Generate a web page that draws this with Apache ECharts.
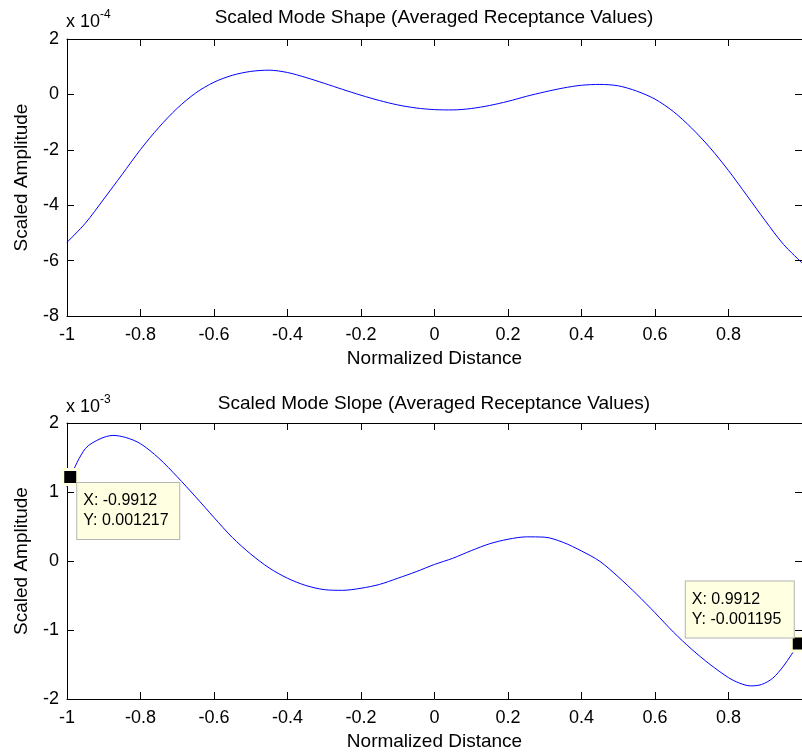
<!DOCTYPE html>
<html><head><meta charset="utf-8">
<script src="https://cdn.jsdelivr.net/npm/echarts@6/dist/echarts.min.js"></script>
<style>html,body{margin:0;padding:0;background:#fff;}#c{width:802px;height:752px;}</style>
</head><body><div id="c"></div>
<script>
// ---------- data (values in units of 10^exp) ----------
const shapeTitle = 'Scaled Mode Shape (Averaged Receptance Values)';
const slopeTitle = 'Scaled Mode Slope (Averaged Receptance Values)';
const xName = 'Normalized Distance';
const yName = 'Scaled Amplitude';
const shapeExp = -4;
const slopeExp = -3;
const shapeX = [-1, -0.95, -0.9, -0.85, -0.8, -0.75, -0.7, -0.65, -0.6, -0.55, -0.5, -0.45, -0.4, -0.35, -0.3, -0.25, -0.2, -0.15, -0.1, -0.05, 0, 0.05, 0.1, 0.15, 0.2, 0.25, 0.3, 0.35, 0.4, 0.45, 0.5, 0.55, 0.6, 0.65, 0.7, 0.75, 0.8, 0.85, 0.9, 0.95, 1.0];
const shapeY = [-5.34, -4.65, -3.78, -2.89, -1.99, -1.19, -0.50, 0.05, 0.44, 0.69, 0.83, 0.875, 0.79, 0.61, 0.40, 0.18, -0.03, -0.22, -0.38, -0.49, -0.55, -0.56, -0.51, -0.40, -0.25, -0.07, 0.09, 0.23, 0.33, 0.36, 0.31, 0.12, -0.17, -0.62, -1.22, -1.93, -2.75, -3.65, -4.56, -5.42, -6.08];
const slopeX = [-1, -0.9912, -0.95, -0.91, -0.875, -0.84, -0.8, -0.75, -0.7, -0.65, -0.6, -0.55, -0.5, -0.45, -0.4, -0.35, -0.3, -0.25, -0.2, -0.15, -0.1, -0.05, 0, 0.05, 0.1, 0.15, 0.2, 0.25, 0.3, 0.35, 0.4, 0.45, 0.5, 0.55, 0.6, 0.65, 0.7, 0.75, 0.8, 0.83, 0.86, 0.89, 0.92, 0.95, 0.9912, 1];
const slopeY = [1.07, 1.217, 1.63, 1.77, 1.82, 1.79, 1.70, 1.49, 1.22, 0.93, 0.63, 0.34, 0.10, -0.10, -0.25, -0.355, -0.415, -0.425, -0.395, -0.34, -0.25, -0.155, -0.05, 0.04, 0.15, 0.25, 0.315, 0.35, 0.345, 0.27, 0.145, -0.005, -0.23, -0.48, -0.75, -1.03, -1.28, -1.50, -1.69, -1.77, -1.81, -1.79, -1.70, -1.52, -1.195, -1.11];
const tipX = [-0.9912, 0.9912];
const tipY = [0.001217, -0.001195];
const shapeTicks = {min: -8, max: 2, interval: 2};
const slopeTicks = {min: -2, max: 2, interval: 1};
const xTicks = {min: -1, max: 1, interval: 0.2};

// ---------- chart ----------
const FONT = '"Liberation Sans", Arial, Helvetica, sans-serif';
const tick = {color: '#000', fontSize: 18, fontFamily: FONT, fontWeight: 'normal'};
const big = {color: '#000', fontSize: 19, fontFamily: FONT, fontWeight: 'normal'};
const zip = (a, b) => a.map((v, i) => [v, b[i]]);
const fmt = v => String(+(+v).toFixed(2));

function xAx(g, top) {
  return {
    type: 'value', gridIndex: g, position: top ? 'top' : 'bottom',
    min: xTicks.min, max: xTicks.max, interval: xTicks.interval,
    axisLine: {show: true, onZero: false, lineStyle: {color: '#000', width: 1}},
    axisTick: {show: true, inside: true, length: 7, lineStyle: {color: '#000', width: 1}},
    axisLabel: {show: !top, ...tick, margin: 10, showMaxLabel: false, formatter: fmt},
    splitLine: {show: false},
    name: top ? '' : xName, nameLocation: 'middle', nameGap: 33, nameTextStyle: big
  };
}
function yAx(g, right, t) {
  return {
    type: 'value', gridIndex: g, position: right ? 'right' : 'left',
    min: t.min, max: t.max, interval: t.interval,
    axisLine: {show: true, onZero: false, lineStyle: {color: '#000', width: 1}},
    axisTick: {show: true, inside: true, length: 7, lineStyle: {color: '#000', width: 1}},
    axisLabel: {show: !right, ...tick, margin: 8, formatter: fmt},
    splitLine: {show: false},
    name: right ? '' : yName, nameLocation: 'middle', nameGap: 36, nameTextStyle: big
  };
}
function expTitle(exp, top) {
  return {
    left: 66, top: top, padding: 0,
    text: '{a|x 10}{b|' + exp + '}',
    textStyle: {fontWeight: 'normal', rich: {
      a: {fontSize: 18, fontFamily: FONT, fontWeight: 'normal', color: '#000', lineHeight: 22, verticalAlign: 'bottom'},
      b: {fontSize: 12, fontFamily: FONT, fontWeight: 'normal', color: '#000', lineHeight: 14, verticalAlign: 'top'}
    }}
  };
}
function tip(i, xi, yi, pos, w) {
  return {
    type: 'scatter', xAxisIndex: xi, yAxisIndex: yi, z: 10, silent: true, clip: false,
    data: [[tipX[i], tipY[i] * Math.pow(10, -slopeExp)]],
    symbol: 'rect', symbolSize: 15,
    itemStyle: {color: '#000', opacity: 1, borderColor: '#ffffe1', borderWidth: 3},
    label: {
      show: true, position: pos,
      formatter: 'X: ' + tipX[i] + '\nY: ' + tipY[i],
      backgroundColor: '#ffffe1', borderColor: '#b4b4b4', borderWidth: 1,
      padding: [8, 6, 8, 6], width: w, lineHeight: 20,
      fontSize: 16, fontFamily: FONT, color: '#000'
    },
    emphasis: {disabled: true}
  };
}

const chart = echarts.init(document.getElementById('c'), null, {renderer: 'canvas'});
chart.setOption({
  animation: false,
  backgroundColor: '#fff',
  title: [
    {text: shapeTitle, left: 434, top: 8, padding: 0, textAlign: 'center', textStyle: big},
    {text: slopeTitle, left: 434, top: 394, padding: 0, textAlign: 'center', textStyle: big},
    expTitle(shapeExp, 9),
    expTitle(slopeExp, 394)
  ],
  grid: [
    {left: 67, top: 39, width: 736, height: 277},
    {left: 67, top: 423, width: 736, height: 277}
  ],
  xAxis: [xAx(0, false), xAx(0, true), xAx(1, false), xAx(1, true)],
  yAxis: [yAx(0, false, shapeTicks), yAx(0, true, shapeTicks), yAx(1, false, slopeTicks), yAx(1, true, slopeTicks)],
  series: [
    {type: 'line', xAxisIndex: 0, yAxisIndex: 0, data: zip(shapeX, shapeY), showSymbol: false, smooth: 0.3,
     lineStyle: {color: '#0000ff', width: 1}, emphasis: {disabled: true}, silent: true},
    {type: 'line', xAxisIndex: 2, yAxisIndex: 2, data: zip(slopeX, slopeY), showSymbol: false, smooth: 0.3,
     lineStyle: {color: '#0000ff', width: 1}, emphasis: {disabled: true}, silent: true},
    tip(0, 2, 2, [16, 15], 90),
    tip(1, 2, 2, [-104, -53], 96)
  ]
});
</script></body></html>
